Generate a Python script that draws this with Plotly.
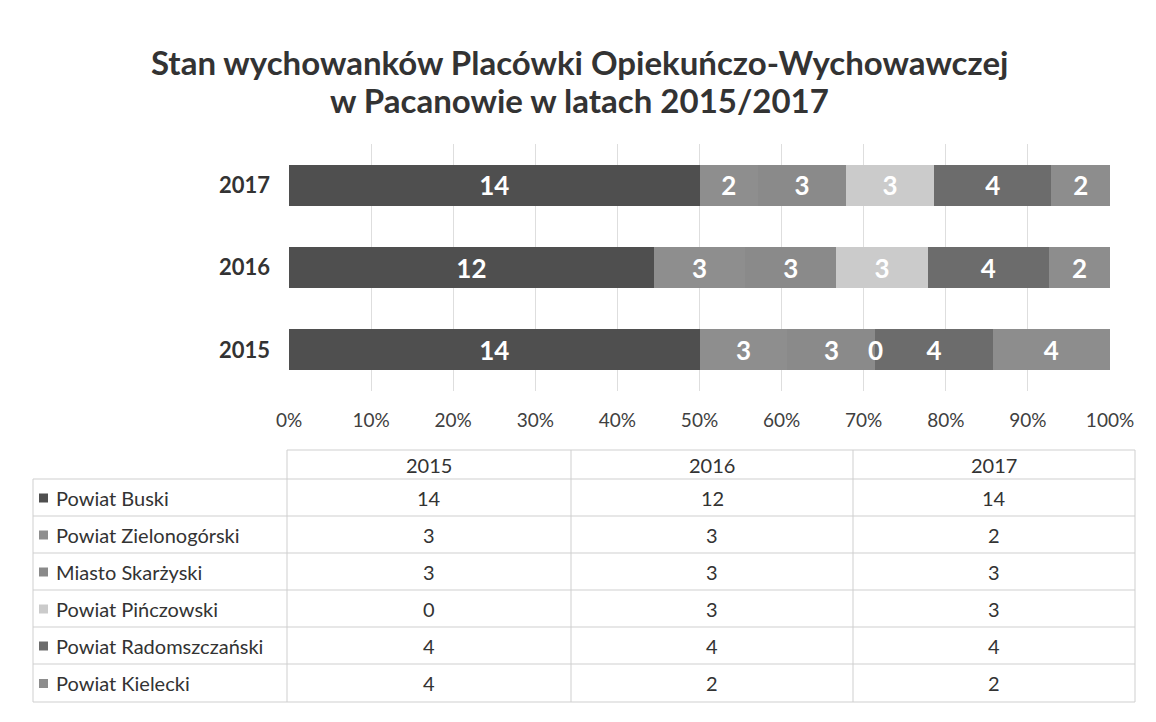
import plotly.graph_objects as go

years = ["2015", "2016", "2017"]
series_names = ["Powiat Buski", "Powiat Zielonogórski", "Miasto Skarżyski",
                "Powiat Pińczowski", "Powiat Radomszczański", "Powiat Kielecki"]
buski = [14, 12, 14]
zielonogorski = [3, 3, 2]
skarzyski = [3, 3, 3]
pinczowski = [0, 3, 3]
radomszczanski = [4, 4, 4]
kielecki = [4, 2, 2]
series_values = [buski, zielonogorski, skarzyski, pinczowski, radomszczanski, kielecki]
colors = ["#4f4f4f", "#8e8e8e", "#8a8a8a", "#cbcbcb", "#6c6c6c", "#8d8d8d"]
x_ticks = list(range(0, 101, 10))
x_tick_labels = [f"{t}%" for t in x_ticks]
title_lines = ["Stan wychowanków Placówki Opiekuńczo-Wychowawczej",
               "w Pacanowie w latach 2015/2017"]

OFF = 8  # page body margin
W, H = 1156 - OFF, 722 - OFF
PL, PR, PT, PB = 289, 1110, 144, 391  # plot area in window pixels
ML, MR, MT, MB = PL - OFF, 1156 - PR, PT - OFF, 722 - PB
PW, PH = PR - PL, PB - PT


def px(x):
    return (x - PL) / PW


def py(y):
    return (PB - y) / PH


label_font = dict(family="Lato", size=26, color="white", weight="bold")
fig = go.Figure()
for name, vals, col in zip(series_names, series_values, colors):
    fig.add_trace(go.Bar(
        y=years, x=vals, name=name, orientation="h",
        marker=dict(color=col, line=dict(width=0)),
        text=[str(v) if v > 0 else "" for v in vals],
        textposition="inside", insidetextanchor="middle",
        textfont=label_font,
        width=0.5, showlegend=False,
    ))

# label for zero-valued segments (plotly hides text on zero-width bars)
totals = [sum(s[i] for s in series_values) for i in range(len(years))]
annotations = []
for i, yr in enumerate(years):
    cum = 0
    for vals in series_values:
        if vals[i] == 0:
            annotations.append(dict(
                x=100 * cum / totals[i], y=i, xref="x", yref="y", text="0",
                xanchor="center", yanchor="middle",
                showarrow=False, font=label_font))
        cum += vals[i]

fig.update_layout(
    barmode="stack", barnorm="percent",
    width=W, height=H,
    margin=dict(l=ML, r=MR, t=MT, b=MB),
    paper_bgcolor="white", plot_bgcolor="white",
    xaxis=dict(range=[0, 100], tickvals=x_ticks, ticktext=x_tick_labels,
               showgrid=True, gridcolor="#dedede", gridwidth=1, zeroline=False,
               ticks="", ticklabelstandoff=16,
               tickfont=dict(family="Lato", size=19, color="#404040")),
    yaxis=dict(type="category", categoryorder="array", categoryarray=years,
               range=[-0.5, 2.5], showgrid=False,
               zeroline=False, ticks="", ticklabelstandoff=18,
               tickfont=dict(family="Lato", size=22, color="#333333", weight="bold")),
)

for k, (line, yy) in enumerate(zip(title_lines, [62, 100])):
    annotations.append(dict(
        x=px(579), y=py(yy), xref="paper", yref="paper", text=line,
        showarrow=False, xanchor="center", yanchor="middle",
        font=dict(family="Lato", size=33, color="#333333", weight="bold")))

# data table drawn below chart
col_x = [287, 571, 853, 1135]
label_left = 33
header_top = 450
row_y = [479, 516, 553, 590, 627, 664, 702]
line_col = "#cfcfcf"
shapes = []


def hline(x0, x1, y):
    shapes.append(dict(type="line", xref="paper", yref="paper", x0=px(x0), x1=px(x1),
                       y0=py(y), y1=py(y), line=dict(color=line_col, width=1)))


def vline(x, y0, y1):
    shapes.append(dict(type="line", xref="paper", yref="paper", x0=px(x), x1=px(x),
                       y0=py(y0), y1=py(y1), line=dict(color=line_col, width=1)))


hline(col_x[0], col_x[-1], header_top)
for y in row_y:
    hline(label_left, col_x[-1], y)
for x in col_x:
    vline(x, header_top, row_y[-1])
vline(label_left, row_y[0], row_y[-1])

table_font = dict(family="Lato", size=20, color="#333333")
for j, yr in enumerate(years):
    annotations.append(dict(
        x=px((col_x[j] + col_x[j + 1]) / 2), y=py((header_top + row_y[0]) / 2),
        xref="paper", yref="paper", text=yr, showarrow=False,
        xanchor="center", yanchor="middle", font=table_font))

for r, (name, vals, col) in enumerate(zip(series_names, series_values, colors)):
    yc = (row_y[r] + row_y[r + 1]) / 2
    shapes.append(dict(type="rect", xref="paper", yref="paper",
                       x0=px(39), x1=px(48), y0=py(yc - 4), y1=py(yc + 5),
                       fillcolor=col, line=dict(width=0)))
    annotations.append(dict(
        x=px(54), y=py(yc), xref="paper", yref="paper", text=name, showarrow=False,
        xanchor="left", yanchor="middle", font=table_font))
    for j, v in enumerate(vals):
        annotations.append(dict(
            x=px((col_x[j] + col_x[j + 1]) / 2), y=py(yc), xref="paper", yref="paper",
            text=str(v), showarrow=False, xanchor="center", yanchor="middle",
            font=table_font))

fig.update_layout(shapes=shapes, annotations=annotations)
fig.write_html("out.html")
